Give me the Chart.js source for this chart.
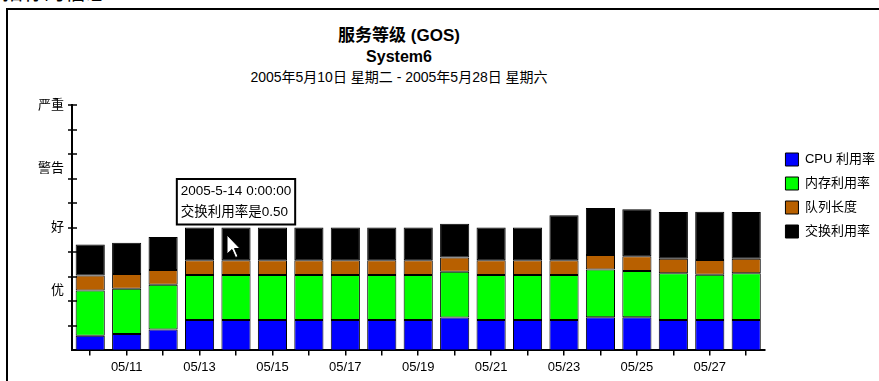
<!DOCTYPE html>
<html>
<head>
<meta charset="utf-8">
<script src="https://cdn.jsdelivr.net/npm/chart.js@4.4.0/dist/chart.umd.min.js"></script>
<style>
html,body{margin:0;padding:0;width:879px;height:381px;overflow:hidden;background:#fff;}
#frame{position:absolute;left:6px;top:8px;width:1000px;height:1000px;border-left:2px solid #000;border-top:2px solid #000;}
#clip{position:absolute;left:2px;top:-20px;font-family:'Noto Sans CJK SC',sans-serif;font-size:21px;line-height:21px;color:#000;white-space:nowrap;}
.hdr{position:absolute;left:199px;width:400px;text-align:center;color:#000;font-family:'Liberation Sans','Noto Sans CJK SC',sans-serif;white-space:nowrap;}
#t1{top:25px;font-size:17px;font-weight:bold;line-height:21px;}
#t2{top:48px;font-size:16px;font-weight:bold;line-height:18px;}
#t3{top:69px;font-size:14px;line-height:17px;}
#wrap{position:absolute;left:0;top:0;width:885px;height:381px;}
#cursor{position:absolute;left:226px;top:234px;z-index:5;}
</style>
</head>
<body>
<div id="clip">指标的信息：</div>
<div id="frame"></div>
<div class="hdr" id="t1">服务等级 (GOS)</div>
<div class="hdr" id="t2">System6</div>
<div class="hdr" id="t3">2005年5月10日 星期二 - 2005年5月28日 星期六</div>
<div id="wrap"><canvas id="c"></canvas></div>
<svg id="cursor" width="16" height="26" viewBox="0 0 16 26"><polygon points="1,1 1,20 6,15.5 9.5,23.5 12,22.5 8.5,14.5 14,14.5" fill="#fff" stroke="#000" stroke-width="1"/></svg>
<script>
// ---- data ----
const categories = ['05/10','05/11','05/12','05/13','05/14','05/15','05/16','05/17','05/18','05/19','05/20','05/21','05/22','05/23','05/24','05/25','05/26','05/27','05/28'];
const cpuUtil   = [0.60,0.67,0.85,1.24,1.24,1.24,1.24,1.24,1.24,1.24,1.34,1.24,1.24,1.24,1.35,1.35,1.24,1.24,1.24];
const memUtil   = [1.84,1.84,1.83,1.83,1.83,1.83,1.83,1.83,1.83,1.83,1.86,1.83,1.83,1.83,1.95,1.89,1.90,1.84,1.90];
const queueLen  = [0.61,0.60,0.60,0.60,0.60,0.60,0.60,0.60,0.60,0.60,0.59,0.60,0.60,0.60,0.59,0.60,0.59,0.60,0.59];
const swapUtil  = [1.27,1.28,1.34,1.34,1.34,1.34,1.34,1.34,1.34,1.34,1.37,1.34,1.34,1.84,1.91,1.91,1.91,1.97,1.91];
const seriesNames = ['CPU 利用率','内存利用率','队列长度','交换利用率'];
const seriesColors = ['#0000FF','#00FF00','#B86000','#000000'];
const yTickValues = [2.45, 5, 7.43, 10];
const yTickLabels = ['优','好','警告','严重'];
const yMax = 10;
const tooltipTitle = '2005-5-14 0:00:00';
const tooltipLabel = '交换利用率是0.50';
const tooltipIndex = 4;

const FONT = "'Liberation Sans','Noto Sans CJK SC',sans-serif";

Chart.Tooltip.positioners.barTop = function(items){
  if (!items.length) return false;
  const el = items[0].element;
  return {x: el.x, y: el.y, xAlign: 'center', yAlign: 'bottom'};
};

const yTickMarks = {
  id: 'yTickMarks',
  afterDatasetsDraw(chart){
    const s = chart.scales.y, ctx = chart.ctx, x = s.right;
    ctx.save();
    ctx.strokeStyle = '#000';
    ctx.lineWidth = 1.5;
    for (let v = 1; v <= yMax; v++) {
      const py = Math.round(s.getPixelForValue(v));
      ctx.beginPath(); ctx.moveTo(x - 4, py); ctx.lineTo(x + 5, py); ctx.stroke();
    }
    ctx.restore();
  }
};

const seriesData = [cpuUtil, memUtil, queueLen, swapUtil];
const datasets = seriesData.map((d, i) => ({
  label: seriesNames[i],
  data: d,
  backgroundColor: seriesColors[i],
  borderColor: '#000',
  borderWidth: 1,
  borderSkipped: false,
  yAxisID: 'y',
  barPercentage: 0.8,
  categoryPercentage: 1.0
}));

const chart = new Chart(document.getElementById('c'), {
  type: 'bar',
  data: { labels: categories, datasets },
  plugins: [yTickMarks],
  options: {
    responsive: true,
    maintainAspectRatio: false,
    animation: false,
    events: [],
    layout: { padding: { top: 105, left: 30, bottom: 2, right: 0 } },
    scales: {
      x: {
        stacked: true,
        grid: { display: true, drawOnChartArea: false, drawTicks: true, tickLength: 5, offset: false, color: '#000', lineWidth: 1.5 },
        border: { display: true, color: '#000', width: 2 },
        ticks: { autoSkip: false, maxRotation: 0, padding: 4, color: '#000', font: { family: FONT, size: 13 },
                 callback: (v, i) => (i % 2 === 1 ? categories[i] : '') }
      },
      y: {
        stacked: true,
        min: 0, max: yMax,
        afterBuildTicks: s => { s.ticks = yTickValues.map(v => ({ value: v })); },
        grid: { display: false, drawTicks: false },
        border: { display: true, color: '#000', width: 2 },
        ticks: { padding: 8, color: '#000', font: { family: FONT, size: 13 },
                 callback: (v, i) => yTickLabels[i] }
      },
      gap: {
        type: 'linear', position: 'right', display: true,
        grid: { display: false, drawTicks: false },
        border: { display: false },
        ticks: { display: false },
        afterFit: s => { s.width = 10; }
      }
    },
    plugins: {
      legend: {
        position: 'right', align: 'start',
        title: { display: true, text: '', padding: { top: 25, bottom: 0 }, font: { size: 10 } },
        labels: { boxWidth: 13, boxHeight: 13, padding: 11, color: '#000', font: { family: FONT, size: 13 } }
      },
      tooltip: {
        enabled: true, position: 'barTop',
        backgroundColor: '#fff', borderColor: '#000', borderWidth: 2, cornerRadius: 0,
        caretSize: 0, caretPadding: 3, padding: 4,
        titleColor: '#000', bodyColor: '#000',
        titleFont: { family: FONT, size: 13.5, weight: 'normal' },
        bodyFont: { family: FONT, size: 13.5 },
        titleMarginBottom: 5, displayColors: false,
        callbacks: { title: () => tooltipTitle, label: () => tooltipLabel }
      }
    }
  }
});
chart.tooltip.setActiveElements([{ datasetIndex: 3, index: tooltipIndex }], { x: 0, y: 0 });
chart.update();
</script>
</body>
</html>
